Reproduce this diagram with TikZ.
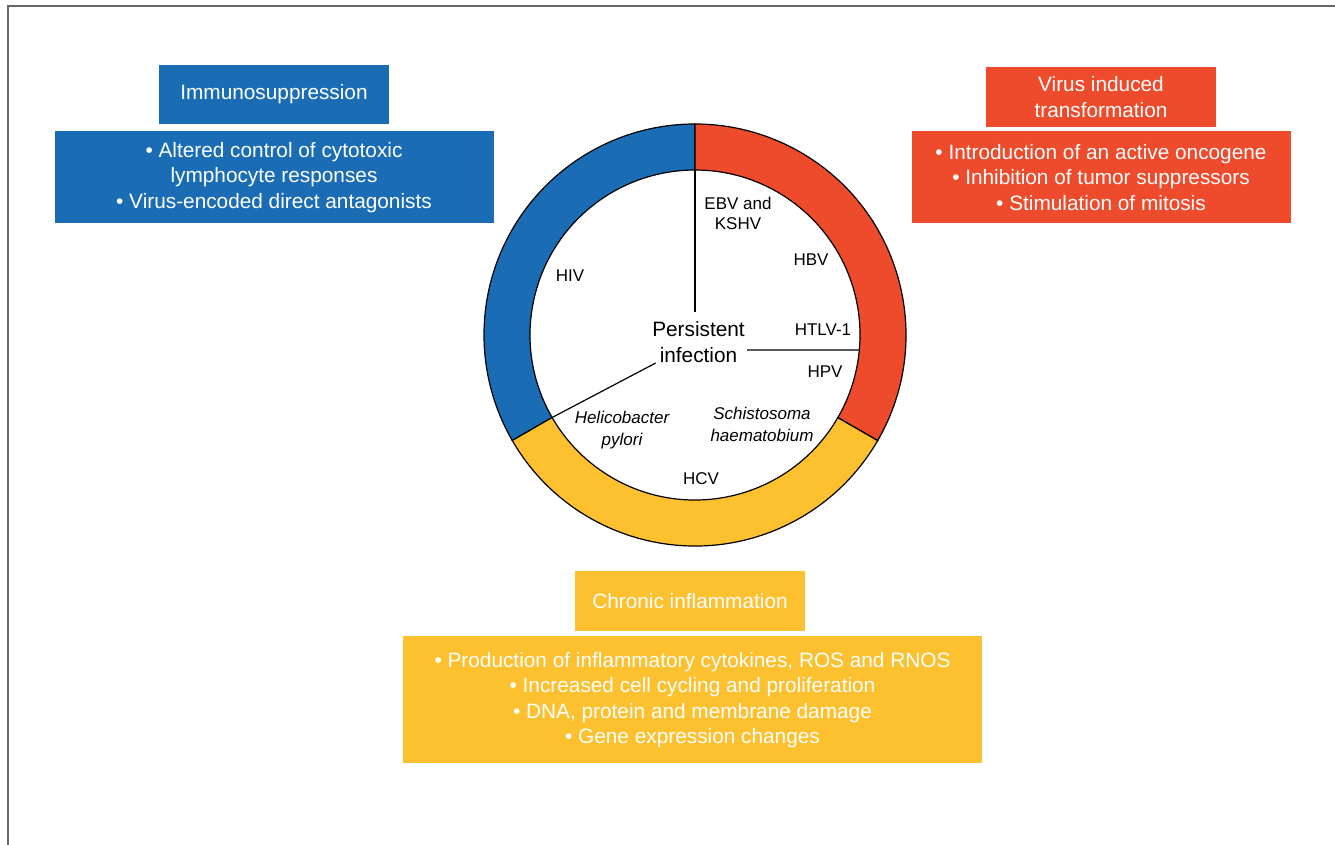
\documentclass[tikz,border=0pt]{standalone}
\usepackage{fontspec}
\setmainfont{Liberation Sans}
\usetikzlibrary{calc, positioning}

\definecolor{immblue}{HTML}{1A6DB5}
\definecolor{virred}{HTML}{EE4A2C}
\definecolor{infyellow}{HTML}{FDC02E}
\definecolor{framegray}{HTML}{666666}

\def\rout{211}
\def\rin{165}
\tikzset{
    titlebox/.style = {
        rectangle, minimum width=230pt, minimum height=59pt, inner sep=0pt,
        align=center, text=white, font=\fontsize{20.8}{26}\selectfont
    },
    bodybox/.style = {
        rectangle, inner sep=0pt, align=center, text=white,
        font=\fontsize{20.8}{25.5}\selectfont
    },
    virlabel/.style = {
        align=center, inner sep=0pt, font=\fontsize{17}{20.7}\selectfont
    },
    ringline/.style = {line width=1.2pt},
}

\begin{document}
\begin{tikzpicture}[x=1pt, y=1pt]
        \useasboundingbox (0,0) rectangle (1335,-845);

        % Frame
        \draw[framegray, line width=1.6pt] (1335,-6) -- (8,-6) -- (8,-845);

        % Place the boxes
        \node[titlebox, fill=immblue] (immtitle) at (274,-94.5) {Immunosuppression};
        \node[bodybox, fill=immblue, minimum width=439pt, minimum height=92pt,
              below=7pt of immtitle] (immbody)
            {\textbullet{} Altered control of cytotoxic\\lymphocyte responses\\\textbullet{} Virus-encoded direct antagonists};

        \node[titlebox, fill=virred, minimum height=60pt] (virtitle) at (1101,-97) {Virus induced\\transformation};
        \node[bodybox, fill=virred, minimum width=379pt, minimum height=92pt,
              below=4pt of virtitle] (virbody)
            {\textbullet{} Introduction of an active oncogene\\\textbullet{} Inhibition of tumor suppressors\\\textbullet{} Stimulation of mitosis};

        \node[titlebox, fill=infyellow, minimum height=60pt] (inftitle) at (690,-601) {Chronic inflammation};
        \node[bodybox, fill=infyellow, minimum width=579pt, minimum height=127pt,
              below=5pt of inftitle, xshift=2.5pt] (infbody)
            {\textbullet{} Production of inflammatory cytokines, ROS and RNOS\\\textbullet{} Increased cell cycling and proliferation\\\textbullet{} DNA, protein and membrane damage\\\textbullet{} Gene expression changes};

        % Ring
        \coordinate (c) at (695,-335);
        \filldraw[fill=immblue, ringline] ($(c)+(90:\rout)$) arc[start angle=90, end angle=210, radius=\rout]
            -- ($(c)+(210:\rin)$) arc[start angle=210, end angle=90, radius=\rin] -- cycle;
        \filldraw[fill=infyellow, ringline] ($(c)+(210:\rout)$) arc[start angle=210, end angle=330, radius=\rout]
            -- ($(c)+(330:\rin)$) arc[start angle=330, end angle=210, radius=\rin] -- cycle;
        \filldraw[fill=virred, ringline] ($(c)+(-30:\rout)$) arc[start angle=-30, end angle=90, radius=\rout]
            -- ($(c)+(90:\rin)$) arc[start angle=90, end angle=-30, radius=\rin] -- cycle;

        % Labels inside
        \node[font=\fontsize{20.8}{25.7}\selectfont, align=center] (persist) at (698.5,-342) {Persistent\\infection};
        \node[virlabel] (hiv) at (570,-276) {HIV};
        \node[virlabel] (ebv) at (738,-213.5) {EBV and\\KSHV};
        \node[virlabel] (hbv) at (811,-260) {HBV};
        \node[virlabel] (htlv) at (823,-330) {HTLV-1};
        \node[virlabel] (hpv) at (825,-372) {HPV};
        \node[virlabel, font=\fontsize{17}{21.5}\selectfont\itshape] (hpylori) at (622,-430) {Helicobacter\\pylori};
        \node[virlabel, font=\fontsize{17}{21.5}\selectfont\itshape] (schisto) at (762,-424.5) {Schistosoma\\haematobium};
        \node[virlabel] (hcv) at (701,-479) {HCV};

        % Dividers
        \coordinate (vtop) at ($(c)+(90:\rin)$);
        \coordinate (vend) at (695,-312);
        \coordinate (hstart) at (747,-350);
        \coordinate (hend) at ($(c)+(-5.2:\rin)$);
        \coordinate (dstart) at (655.7,-363);
        \coordinate (dend) at ($(c)+(210:\rin)$);
        \draw[ringline] (vtop) -- (vend);
        \draw[ringline] (hstart) -- (hend);
        \draw[ringline] (dstart) -- (dend);
\end{tikzpicture}
\end{document}
